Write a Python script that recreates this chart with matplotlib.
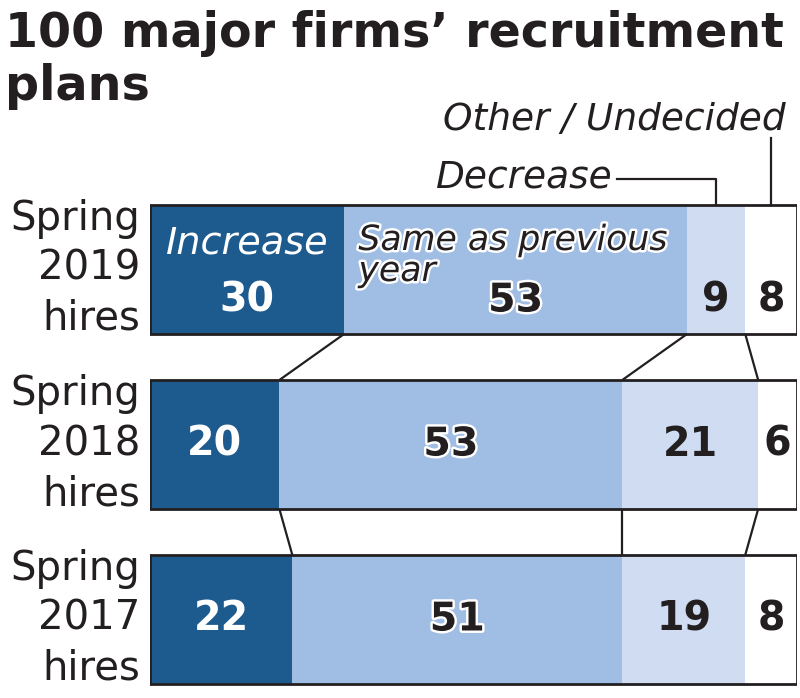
import matplotlib
matplotlib.use("Agg")
import matplotlib.pyplot as plt
import matplotlib.patheffects as pe
import matplotlib.transforms as mtransforms
from matplotlib.patches import Rectangle

# ---- data ----
periods = ["Spring\n2019\nhires", "Spring\n2018\nhires", "Spring\n2017\nhires"]
categories = ["Increase", "Same as previous year", "Decrease", "Other / Undecided"]
increase = [30, 20, 22]
same = [53, 53, 51]
decrease = [9, 21, 19]
other = [8, 6, 8]
title_lines = ["100 major firms’ recruitment", "plans"]

colors = ["#1d5a8e", "#a0bde3", "#cfdcf1", "#ffffff"]
text_colors = ["white", "#231f20", "#231f20", "#231f20"]
outline = [False, True, False, False]
INK = "#231f20"

W, H = 800, 698
fig = plt.figure(figsize=(W / 100, H / 100), dpi=100)
fig.patch.set_facecolor("white")
ax = fig.add_axes([150 / W, 0, 647 / W, 1])
ax.set_xlim(0, 100)
ax.set_ylim(H, 0)
ax.axis("off")

FONT = "DejaVu Sans"
bar_tops = [205, 380, 555]
bar_h = 129
series = [increase, same, decrease, other]
trans = mtransforms.blended_transform_factory(fig.transFigure, ax.transData)

for i, top in enumerate(bar_tops):
    yc = top + bar_h / 2
    left = 0
    vals = [s[i] for s in series]
    for j, v in enumerate(vals):
        ax.barh(yc, v, left=left, height=bar_h, color=colors[j], edgecolor="none", zorder=1)
        ty = yc + (31 if i == 0 else 0)
        t = ax.text(left + v / 2, ty, str(v), ha="center", va="center", fontsize=28.5,
                    fontweight="bold", color=text_colors[j], family=FONT, zorder=5)
        if outline[j]:
            t.set_path_effects([pe.withStroke(linewidth=3.5, foreground="white")])
        left += v
    ax.add_patch(Rectangle((0, top), left, bar_h, fill=False, edgecolor=INK,
                           linewidth=2, zorder=4))
    for k, line in enumerate(periods[i].split("\n")):
        ax.text(140 / W, top + 25 + 50 * k, line, transform=trans, ha="right",
                va="baseline", fontsize=29, color=INK, family=FONT)

# connector lines between bars
def cum(i):
    c, s = [], 0
    for ser in series[:-1]:
        s += ser[i]
        c.append(s)
    return c

for i in range(len(bar_tops) - 1):
    a, b = cum(i), cum(i + 1)
    y0 = bar_tops[i] + bar_h
    y1 = bar_tops[i + 1]
    for xa, xb in zip(a, b):
        ax.plot([xa, xb], [y0, y1], color=INK, lw=1.6, solid_capstyle="butt", zorder=3)

# in-bar category labels (2019 bar)
ax.text(increase[0] / 2, 254, categories[0], ha="center", va="baseline", fontsize=27.5,
        style="italic", color="white", family=FONT, zorder=5)
for k, line in enumerate(["Same as previous", "year"]):
    t = ax.text(increase[0] + 2.2, 250 + 31 * k, line, ha="left", va="baseline",
                fontsize=25, style="italic", color=INK, family=FONT, zorder=5)
    t.set_path_effects([pe.withStroke(linewidth=3.5, foreground="white")])

# leader labels
dec_x = increase[0] + same[0] + decrease[0] / 2
oth_x = increase[0] + same[0] + decrease[0] + other[0] / 2
ax.text(dec_x - 16, 188, categories[2], ha="right", va="baseline", fontsize=27,
        style="italic", color=INK, family=FONT)
ax.plot([dec_x - 15.3, dec_x, dec_x], [179, 179, 205], color=INK, lw=1.6, zorder=3)
ax.text(oth_x + 2.2, 130, categories[3], ha="right", va="baseline", fontsize=27,
        style="italic", color=INK, family=FONT)
ax.plot([oth_x, oth_x], [138, 205], color=INK, lw=1.6, zorder=3)

# title
for k, line in enumerate(title_lines):
    fig.text(5 / W, 1 - (47 + 53 * k) / H, line, ha="left", va="baseline", fontsize=34.3,
             fontweight="bold", color=INK, family=FONT)

fig.savefig("out.png", dpi=100)
